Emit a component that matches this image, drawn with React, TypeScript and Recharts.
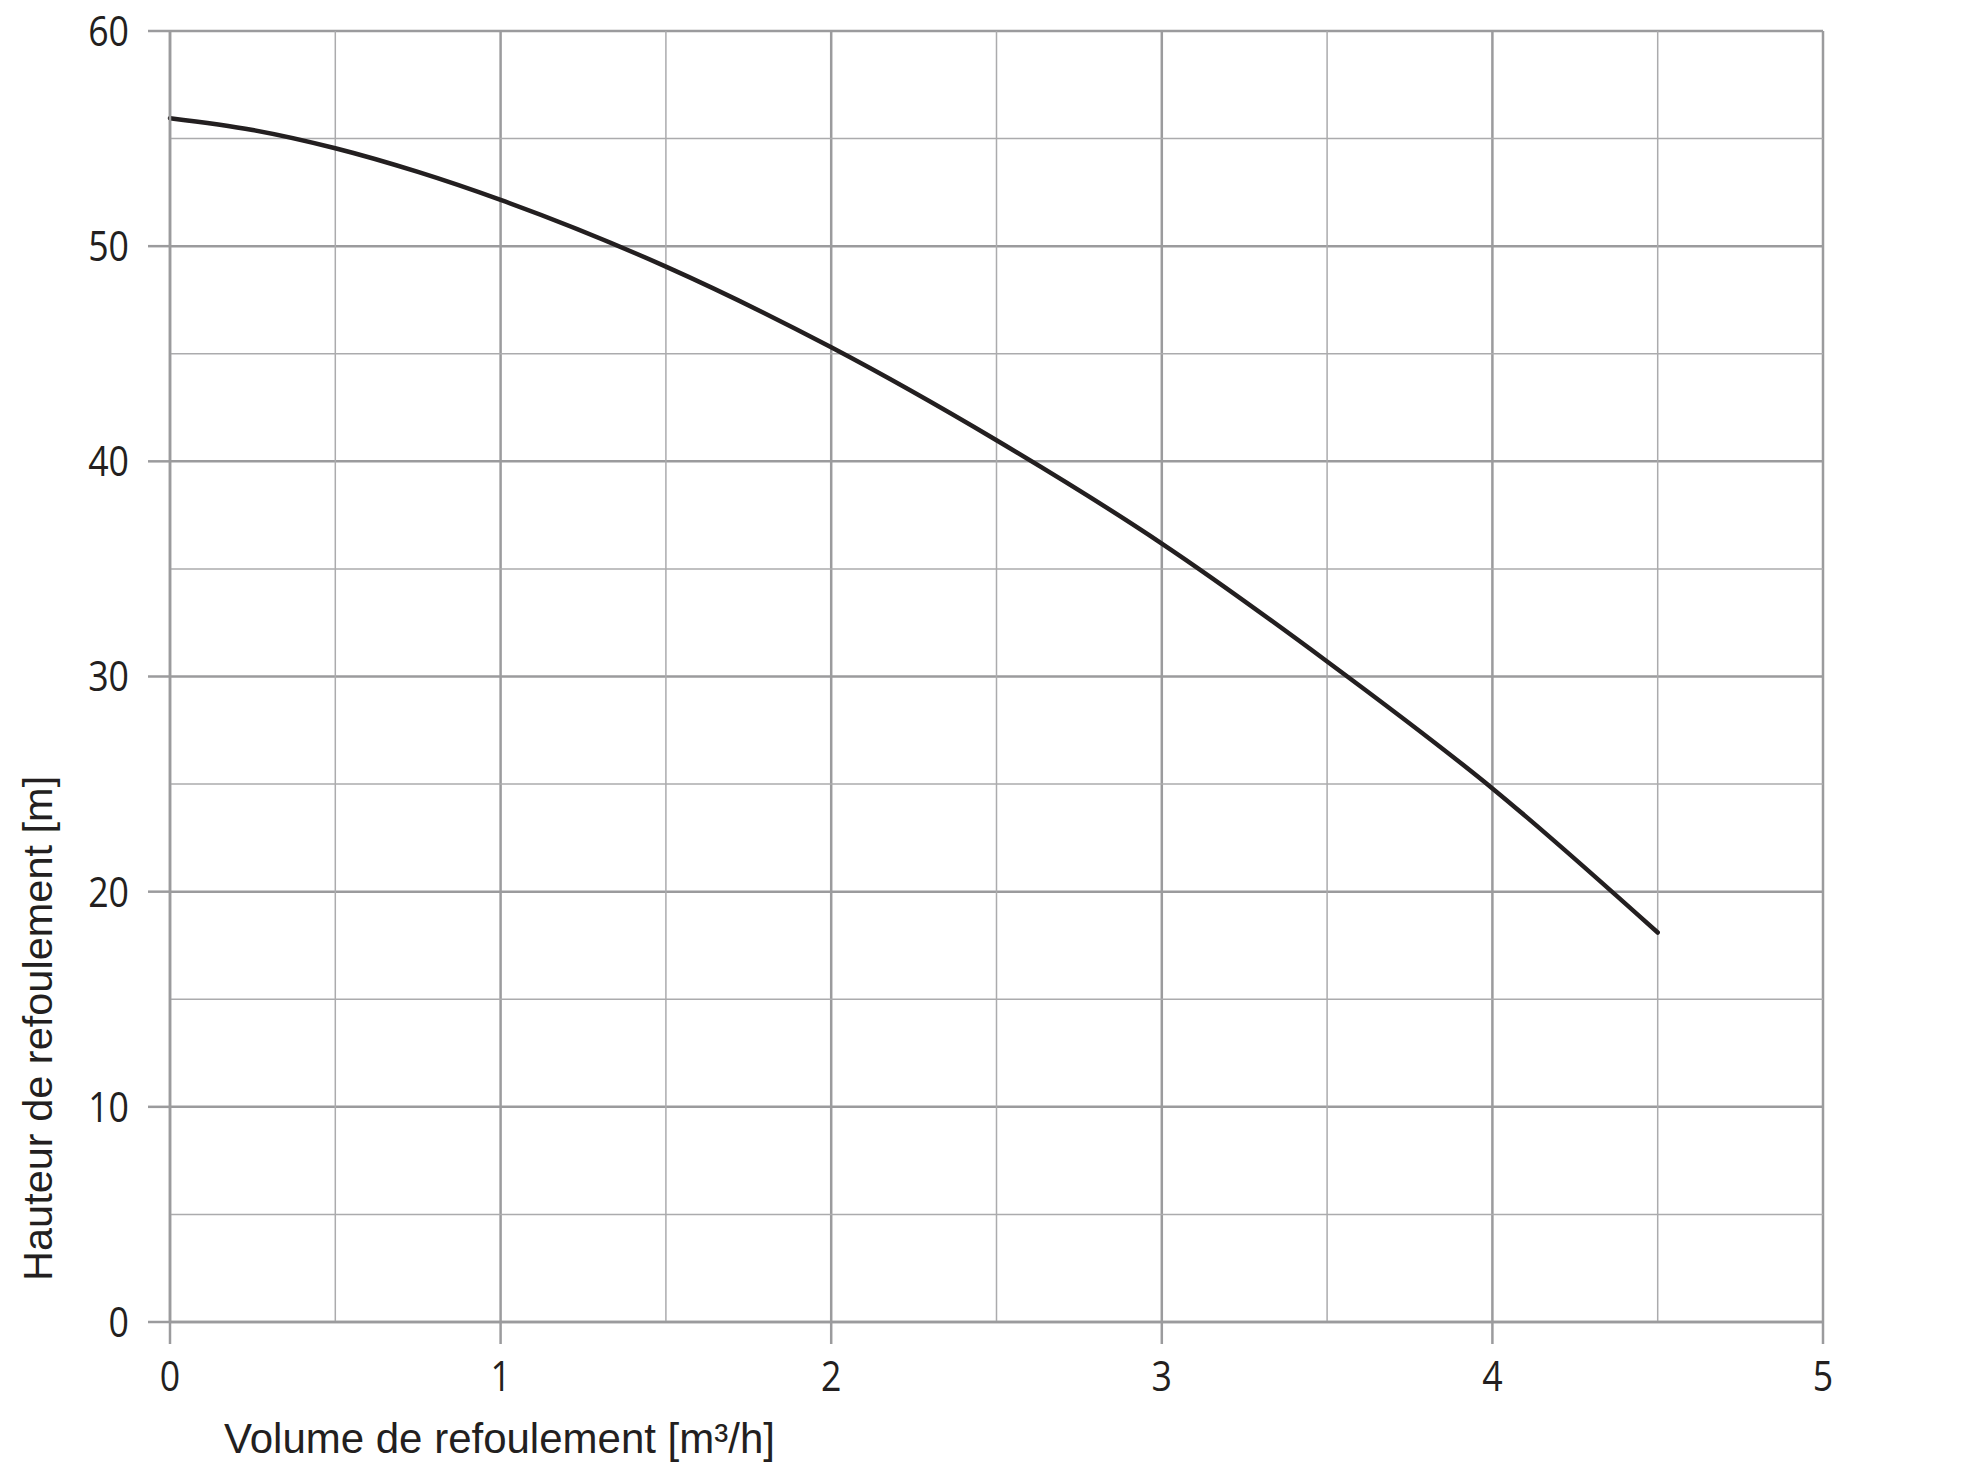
import { LineChart, Line, XAxis, YAxis, CartesianGrid, ReferenceLine } from 'recharts';

// pump curve: delivery volume [m³/h] vs head [m]
const flow = [0, 0.25, 0.5, 0.75, 1, 1.5, 2, 2.5, 3, 3.5, 4, 4.5];
const head = [55.95, 55.4, 54.55, 53.45, 52.15, 49.05, 45.3, 40.98, 36.18, 30.7, 24.8, 18.1];

const xTicks = [0, 1, 2, 3, 4, 5];
const yTicks = [0, 10, 20, 30, 40, 50, 60];
const xMinor = [0.5, 1.5, 2.5, 3.5, 4.5];
const yMinor = [5, 15, 25, 35, 45, 55];

const xTitle = 'Volume de refoulement [m³/h]';
const yTitle = 'Hauteur de refoulement [m]';

const data = flow.map((q, i) => ({ q, h: head[i] }));

const MAJOR = '#9b9b9d';
const MINOR = '#ababad';
const INK = '#231f20';
const tickFont = "'Open Sans', 'DejaVu Sans Condensed', sans-serif";
const titleFont = "'Liberation Sans', Arial, sans-serif";

// digits in the original are a condensed face, so squeeze them a bit
const XTick = (props: any) => {
  const { x, y, payload } = props;
  return (
    <g transform={`translate(${x},${y}) scale(0.85,1)`}>
      <text x={0} y={0} dy="0.71em" textAnchor="middle" fontFamily={tickFont} fontSize={42} fill={INK}>
        {payload.value}
      </text>
    </g>
  );
};

const YTick = (props: any) => {
  const { x, y, payload } = props;
  return (
    <g transform={`translate(${x},${y}) scale(0.85,1)`}>
      <text x={0} y={0} dy="0.355em" textAnchor="end" fontFamily={tickFont} fontSize={42} fill={INK}>
        {payload.value}
      </text>
    </g>
  );
};

const XTitle = (props: any) => {
  const { viewBox } = props;
  return (
    <text x={viewBox.x + 54} y={viewBox.y + 131} fontFamily={titleFont} fontSize={42} fill={INK}>
      {xTitle}
    </text>
  );
};

const YTitle = (props: any) => {
  const { viewBox } = props;
  const x = viewBox.x - 18;
  const y = viewBox.y + viewBox.height - 41;
  return (
    <text x={x} y={y} transform={`rotate(-90 ${x} ${y})`} fontFamily={titleFont} fontSize={41.5} fill={INK}>
      {yTitle}
    </text>
  );
};

export default function App() {
  // negative top margin cancels the body margin so the svg starts at the page top
  return (
    <div style={{ width: 1954, height: 1466, marginTop: -8, background: '#fff' }}>
      <LineChart width={1954} height={1466} data={data} margin={{ top: 31, right: 139, left: 62, bottom: 0 }}>
        <CartesianGrid stroke={MAJOR} strokeWidth={2.5} />
        {xMinor.map((v) => (
          <ReferenceLine key={'x' + v} x={v} stroke={MINOR} strokeWidth={1.5} />
        ))}
        {yMinor.map((v) => (
          <ReferenceLine key={'y' + v} y={v} stroke={MINOR} strokeWidth={1.5} />
        ))}
        <XAxis
          type="number"
          dataKey="q"
          domain={[0, 5]}
          ticks={xTicks}
          height={144}
          tickSize={22}
          tickMargin={17}
          axisLine={{ stroke: MAJOR, strokeWidth: 2.5 }}
          tickLine={{ stroke: MAJOR, strokeWidth: 2.5 }}
          tick={<XTick />}
          label={<XTitle />}
        />
        <YAxis
          type="number"
          domain={[0, 60]}
          ticks={yTicks}
          width={100}
          tickSize={22}
          tickMargin={19}
          axisLine={{ stroke: MAJOR, strokeWidth: 2.5 }}
          tickLine={{ stroke: MAJOR, strokeWidth: 2.5 }}
          tick={<YTick />}
          label={<YTitle />}
        />
        <Line
          type="monotone"
          dataKey="h"
          stroke={INK}
          strokeWidth={4.5}
          strokeLinecap="round"
          dot={false}
          isAnimationActive={false}
        />
      </LineChart>
    </div>
  );
}
